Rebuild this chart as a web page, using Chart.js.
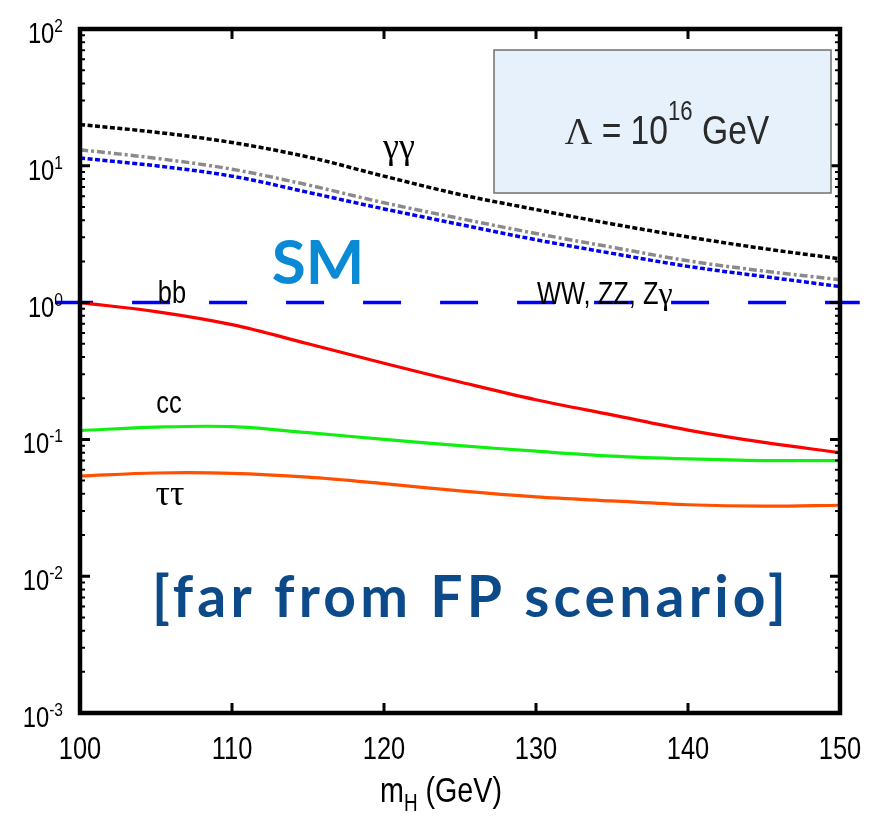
<!DOCTYPE html>
<html>
<head>
<meta charset="utf-8">
<script src="https://cdn.jsdelivr.net/npm/chart.js@4.4.1/dist/chart.umd.min.js"></script>
<style>
html,body{margin:0;padding:0;background:#fff;}
canvas{display:block;}
</style>
</head>
<body>
<canvas id="c" width="875" height="818"></canvas>
<script>
// ---- data ----
const massGeV      = [100, 105, 110, 115, 120, 125, 130, 135, 140, 145, 150];
const gammaGamma   = [20.0, 17.6, 14.8, 11.6, 8.4, 6.17, 4.79, 3.76, 3.02, 2.48, 2.09];
const wwZZ         = [13.1, 11.35, 9.44, 7.24, 5.37, 4.12, 3.20, 2.54, 2.02, 1.70, 1.47];
const zGamma       = [11.4, 10.0, 8.4, 6.4, 4.84, 3.72, 2.88, 2.29, 1.84, 1.55, 1.31];
const bbRatio      = [1.0, 0.86, 0.69, 0.50, 0.36, 0.263, 0.195, 0.151, 0.117, 0.095, 0.080];
const ccRatio      = [0.116, 0.123, 0.124, 0.112, 0.100, 0.090, 0.082, 0.0755, 0.072, 0.070, 0.070];
const tautauRatio  = [0.054, 0.0568, 0.0565, 0.053, 0.0475, 0.042, 0.038, 0.0355, 0.0333, 0.0325, 0.033];
const smMass       = [98.36, 151.3];
const smRatio      = [1, 1];
const xTickValues  = [100, 110, 120, 130, 140, 150];
const yTickExps    = [2, 1, 0, -1, -2, -3];

const pts = (xs, ys) => xs.map((x, i) => ({x: x, y: ys[i]}));

const SANS = '"Liberation Sans", Arial, sans-serif';
const SERIF = '"Liberation Serif", "DejaVu Serif", serif';
const NARROW_SX = 0.82;

// draw a sequence of text runs (each with its own font, vertical offset and horizontal squeeze)
function drawRuns(ctx, runs, x, y, align) {
  const widths = runs.map(r => {
    ctx.font = r.font;
    return ctx.measureText(r.t).width * (r.sx || 1);
  });
  const total = widths.reduce((s, w) => s + w, 0);
  let cx = x;
  if (align === 'center') cx = x - total / 2;
  else if (align === 'right') cx = x - total;
  ctx.textAlign = 'left';
  ctx.textBaseline = 'alphabetic';
  runs.forEach((r, i) => {
    ctx.save();
    ctx.font = r.font;
    ctx.translate(cx, y + (r.dy || 0));
    ctx.scale(r.sx || 1, 1);
    ctx.fillText(r.t, 0, 0);
    ctx.restore();
    cx += widths[i];
  });
  return total;
}
const nr = (t, size, dy) => ({t: t, font: size + 'px ' + SANS, sx: NARROW_SX, dy: dy || 0});
const sr = (t, size, dy) => ({t: t, font: size + 'px ' + SERIF, sx: 1, dy: dy || 0});

const curve = (label, ys, color, dash, width) => ({
  label: label,
  data: pts(massGeV, ys),
  borderColor: color,
  borderWidth: width,
  borderDash: dash,
  pointRadius: 0,
  fill: false,
  tension: 0.35
});

const decor = {
  id: 'decor',
  afterDatasetsDraw(chart) {
    const ctx = chart.ctx;
    const a = chart.chartArea;
    const xs = chart.scales.x, ys = chart.scales.y;
    ctx.save();
    // frame
    ctx.strokeStyle = '#000';
    ctx.lineWidth = 4.5;
    ctx.strokeRect(a.left, a.top, a.right - a.left, a.bottom - a.top);
    // y ticks (major + minor), inward on both sides
    for (let e = -3; e <= 2; e++) {
      for (let m = 1; m <= 9; m++) {
        const v = m * Math.pow(10, e);
        if (v > 100.0001) break;
        const py = ys.getPixelForValue(v);
        const len = (m === 1) ? 10 : 5;
        ctx.lineWidth = (m === 1) ? 3 : 2;
        ctx.beginPath();
        ctx.moveTo(a.left, py); ctx.lineTo(a.left + len, py);
        ctx.moveTo(a.right, py); ctx.lineTo(a.right - len, py);
        ctx.stroke();
      }
    }
    // x ticks inward, bottom and top
    ctx.lineWidth = 3;
    xTickValues.forEach(v => {
      const px = xs.getPixelForValue(v);
      ctx.beginPath();
      ctx.moveTo(px, a.bottom); ctx.lineTo(px, a.bottom - 10);
      ctx.moveTo(px, a.top); ctx.lineTo(px, a.top + 10);
      ctx.stroke();
    });
    ctx.fillStyle = '#000';
    // x tick labels
    xTickValues.forEach(v => {
      drawRuns(ctx, [nr(String(v), 31)], xs.getPixelForValue(v), 759, 'center');
    });
    // y tick labels 10^n
    yTickExps.forEach(e => {
      const py = ys.getPixelForValue(Math.pow(10, e));
      drawRuns(ctx, [nr('10', 29, 14), nr(String(e), 19, 3)], 63, py, 'right');
    });
    // x axis title
    drawRuns(ctx, [nr('m', 35), nr('H', 23, 9), nr(' (GeV)', 35)], 441, 802, 'center');

    // curve labels
    drawRuns(ctx, [sr('\u03B3\u03B3', 36)], 399, 158, 'center');
    drawRuns(ctx, [sr('\u03C4\u03C4', 36)], 170, 505, 'center');
    drawRuns(ctx, [nr('bb', 31)], 172, 303, 'center');
    drawRuns(ctx, [nr('cc', 31)], 169, 413, 'center');
    drawRuns(ctx, [nr('WW, ZZ, Z', 31), sr('\u03B3', 32)], 537, 304, 'left');

    // Lambda box
    ctx.fillStyle = '#e7f1fb';
    ctx.fillRect(494, 50, 337, 143);
    ctx.strokeStyle = '#707070';
    ctx.lineWidth = 1.5;
    ctx.strokeRect(494, 50, 337, 143);
    ctx.fillStyle = '#2a2a2a';
    drawRuns(ctx, [sr('\u039B', 38), nr(' = 10', 41), nr('16', 27, -24), nr(' GeV', 41)], 667, 144, 'center');

    // SM
    ctx.fillStyle = '#0a8ad4';
    ctx.textAlign = 'center';
    ctx.textBaseline = 'alphabetic';
    ctx.font = 'bold 62px "Comic Sans MS", "Lato", "Noto Sans", sans-serif';
    ctx.fillText('SM', 318, 284);

    // scenario label, spread to the reference width
    ctx.fillStyle = '#0d4a8a';
    ctx.font = 'bold 57px "Comic Sans MS", "Lato", "Noto Sans", sans-serif';
    const label = '[far from FP scenario]';
    const w0 = ctx.measureText(label).width;
    const target = 638;
    if ('letterSpacing' in ctx && w0 < target) {
      ctx.letterSpacing = ((target - w0) / label.length).toFixed(2) + 'px';
    }
    ctx.textAlign = 'left';
    const w1 = ctx.measureText(label).width;
    ctx.fillText(label, 471 - w1 / 2, 617);
    ctx.restore();
  }
};

new Chart(document.getElementById('c'), {
  type: 'line',
  data: {
    datasets: [
      curve('\u03B3\u03B3', gammaGamma, '#000000', [5, 2.5], 3.5),
      curve('WW, ZZ', wwZZ, '#8a8a8a', [8, 3, 3, 3], 3.5),
      curve('Z\u03B3', zGamma, '#0000ee', [5, 2.5], 3.5),
      curve('bb', bbRatio, '#ff0000', [], 3.2),
      curve('cc', ccRatio, '#11ee11', [], 3.2),
      curve('\u03C4\u03C4', tautauRatio, '#ff5000', [], 3.2),
      {
        label: 'SM',
        data: pts(smMass, smRatio),
        borderColor: '#0000ff',
        borderWidth: 3.5,
        borderDash: [38, 39],
        pointRadius: 0,
        fill: false,
        clip: false
      }
    ]
  },
  options: {
    responsive: false,
    animation: false,
    devicePixelRatio: 1,
    layout: { padding: { left: 80, right: 35, top: 29, bottom: 105 } },
    plugins: { legend: { display: false }, tooltip: { enabled: false } },
    scales: {
      x: { type: 'linear', min: 100, max: 150, display: false },
      y: { type: 'logarithmic', min: 0.001, max: 100, display: false }
    }
  },
  plugins: [decor]
});
</script>
</body>
</html>
